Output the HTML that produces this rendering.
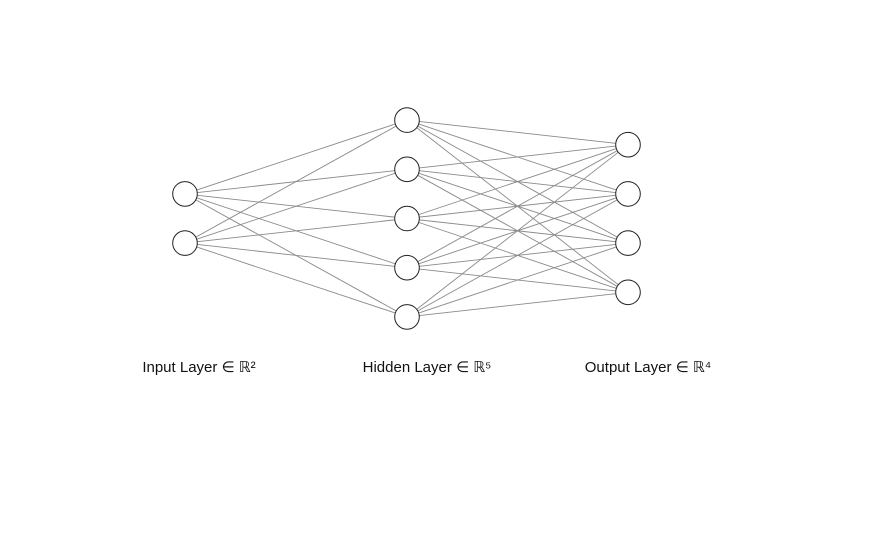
<!DOCTYPE html>
<html><head><meta charset="utf-8"><style>
html,body{margin:0;padding:0;background:#fff;width:880px;height:538px;overflow:hidden}
text{font-family:"Liberation Sans","DejaVu Sans",sans-serif;font-size:15px;fill:#111}
</style></head><body>
<svg id="chart" width="880" height="538" viewBox="0 0 880 538">
<g id="edges"></g>
<g id="nodes"></g>
<g id="labels"></g>
</svg>
<script>
const layerSizes = [2, 5, 4];
const layerNames = ["Input Layer ∈ ℝ²", "Hidden Layer ∈ ℝ⁵", "Output Layer ∈ ℝ⁴"];
const NS = "http://www.w3.org/2000/svg";
const layerXs = [185, 407, 628];
const labelXs = [199, 427, 648];
const layerX = i => layerXs[i];
const nodeY = (n, j) => 218.5 + (j - (n - 1) / 2) * 49.2;
const labelX = i => labelXs[i];
const edges = document.getElementById('edges');
const nodes = document.getElementById('nodes');
const labels = document.getElementById('labels');
for (let l = 0; l < layerSizes.length - 1; l++) {
  for (let a = 0; a < layerSizes[l]; a++) {
    for (let b = 0; b < layerSizes[l + 1]; b++) {
      const ln = document.createElementNS(NS, 'line');
      ln.setAttribute('x1', layerX(l)); ln.setAttribute('y1', nodeY(layerSizes[l], a));
      ln.setAttribute('x2', layerX(l + 1)); ln.setAttribute('y2', nodeY(layerSizes[l + 1], b));
      ln.setAttribute('stroke', '#8a8a8a'); ln.setAttribute('stroke-width', '0.9');
      
      
      edges.appendChild(ln);
    }
  }
}
layerSizes.forEach((n, l) => {
  for (let j = 0; j < n; j++) {
    const c = document.createElementNS(NS, 'circle');
    c.setAttribute('cx', layerX(l)); c.setAttribute('cy', nodeY(n, j)); c.setAttribute('r', 12.3);
    c.setAttribute('fill', '#fff'); c.setAttribute('stroke', '#222'); c.setAttribute('stroke-width', '1');
    
    
    nodes.appendChild(c);
  }
  const t = document.createElementNS(NS, 'text');
  t.setAttribute('x', labelX(l)); t.setAttribute('y', 372); t.setAttribute('text-anchor', 'middle');
  t.textContent = layerNames[l];
  
  
  labels.appendChild(t);
});
</script>
</body></html>
